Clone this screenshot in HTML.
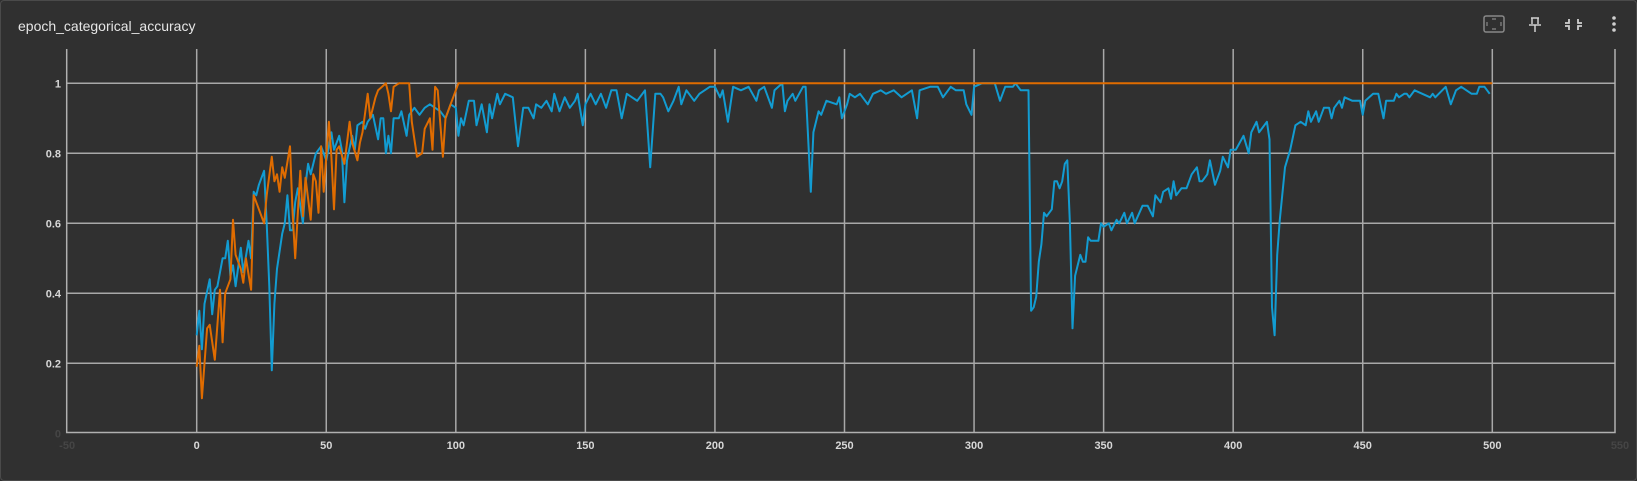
<!DOCTYPE html>
<html><head><meta charset="utf-8">
<style>
html,body{margin:0;padding:0;background:#2f2f2f;}
body{width:1637px;height:481px;overflow:hidden;font-family:"Liberation Sans",sans-serif;}
#card{position:absolute;left:0;top:0;width:1635px;height:479px;border:1px solid #4a4a4a;border-radius:4px;background:#303030;}
#title{position:absolute;left:17px;top:17px;color:#e6e6e6;font-size:14px;}
svg{position:absolute;left:0;top:0;}
</style></head><body>
<div id="card">
<div id="title">epoch_categorical_accuracy</div>
</div>
<svg id="icons" width="1637" height="50">
<g><rect x="1484" y="16" width="20" height="16" rx="2" fill="none" stroke="#888" stroke-width="1.5"/><path d="M1492 19h4M1492 29h4M1487 22v4M1501 22v4" stroke="#888" stroke-width="1.2"/></g>
<g stroke="#cfcfcf" stroke-width="1.5" fill="none"><path d="M1531 18h8M1532 18v6M1538 18v6M1529 25h12M1535 25v7"/></g>
<g stroke="#cfcfcf" stroke-width="1.8" fill="none"><path d="M1569 19v4h-4M1578 19v4h4M1569 30v-4h-4M1578 30v-4h4"/></g>
<g fill="#cfcfcf"><circle cx="1614" cy="18" r="1.8"/><circle cx="1614" cy="24" r="1.8"/><circle cx="1614" cy="30" r="1.8"/></g>
</svg>
<svg id="chart" width="1637" height="481" style="pointer-events:none"></svg>
<script>
const blueEpochs=[0,1,2,3,5,6,7,8,10,11,12,13,14,15,17,18,20,21,22,23,24,26,27,28,29,30,31,33,34,35,36,37,38,39,41,42,43,44,46,48,50,51,52,53,55,56,57,58,60,61,62,64,65,66,68,70,71,72,73,74,75,76,78,79,81,82,84,86,88,90,92,94,96,98,100,101,102,103,105,107,108,110,112,113,114,116,117,119,122,124,126,128,130,131,133,135,137,138,140,142,144,146,147,149,150,152,154,156,158,160,162,164,166,168,170,173,175,177,179,180,182,184,186,187,189,192,194,198,200,202,203,205,207,210,213,216,217,219,222,223,226,227,228,230,231,234,235,237,238,240,241,243,247,248,249,251,252,254,256,259,261,264,266,269,272,274,276,278,279,283,286,288,291,293,296,297,299,300,303,308,310,312,315,316,318,321,322,323,324,325,326,327,328,330,331,332,333,334,335,336,337,338,339,341,342,343,344,345,347,348,349,350,352,353,355,356,358,359,361,362,365,367,369,370,372,373,375,376,377,378,380,382,384,386,387,388,390,391,393,395,396,398,399,401,404,406,407,409,410,413,414,415,416,417,418,420,422,424,426,428,429,430,432,433,435,437,438,439,441,442,443,446,448,449,450,451,454,456,458,459,462,463,464,466,467,468,470,473,476,477,478,482,484,486,488,490,492,494,495,497,499];
const blueValues=[.28,.35,.24,.37,.44,.34,.41,.42,.50,.50,.55,.45,.48,.42,.53,.46,.55,.50,.69,.68,.71,.75,.60,.42,.18,.37,.47,.57,.60,.68,.58,.58,.66,.70,.60,.71,.77,.74,.80,.82,.78,.82,.86,.81,.85,.81,.66,.78,.85,.81,.88,.89,.87,.89,.91,.84,.90,.90,.80,.85,.80,.90,.90,.92,.85,.91,.93,.91,.93,.94,.93,.92,.90,.94,.93,.85,.90,.88,.95,.95,.88,.94,.86,.94,.90,.97,.94,.97,.96,.82,.93,.93,.90,.94,.93,.95,.92,.97,.92,.96,.93,.95,.97,.88,.94,.97,.94,.97,.93,.98,.98,.90,.97,.96,.95,.98,.76,.97,.97,.96,.92,.95,.99,.94,.98,.95,.97,.99,.99,.96,.98,.89,.99,.98,.99,.95,.98,.99,.93,.98,1.0,.92,.95,.97,.95,.99,.99,.69,.86,.92,.91,.95,.94,.96,.90,.94,.97,.96,.97,.94,.97,.98,.97,.98,.96,.97,.98,.90,.98,.99,.99,.96,.99,.98,.98,.94,.91,.99,1.0,1.0,.95,.99,.99,1.0,.98,.98,.35,.36,.39,.49,.54,.63,.62,.64,.72,.72,.70,.72,.77,.78,.60,.30,.45,.51,.49,.49,.56,.55,.55,.55,.60,.59,.60,.58,.61,.60,.63,.60,.63,.60,.65,.65,.62,.68,.66,.69,.70,.67,.72,.68,.70,.70,.74,.76,.72,.72,.74,.78,.71,.75,.79,.76,.81,.81,.85,.80,.86,.89,.86,.89,.84,.36,.28,.51,.61,.76,.81,.88,.89,.88,.92,.89,.92,.89,.93,.93,.90,.93,.95,.93,.96,.95,.95,.95,.91,.95,.97,.97,.90,.95,.95,.97,.96,.97,.97,.96,.98,.97,.96,.97,.96,.99,.94,.98,.99,.98,.97,.97,.99,.99,.97];
const orangeEpochs=[0,1,2,3,4,5,7,9,10,11,13,14,15,17,18,19,21,22,24,26,27,29,30,31,32,33,34,36,37,38,40,41,42,44,45,46,47,48,49,51,52,53,54,55,57,59,60,62,63,64,66,67,69,70,73,74,75,76,78,80,82,83,85,87,88,90,91,92,93,95,96,98,100,101,500];
const orangeValues=[.19,.25,.10,.20,.30,.31,.21,.41,.26,.40,.44,.61,.51,.47,.43,.50,.41,.68,.64,.60,.68,.79,.72,.74,.69,.76,.73,.82,.63,.50,.75,.62,.73,.61,.74,.72,.63,.82,.69,.89,.79,.64,.81,.82,.77,.89,.83,.78,.83,.86,.97,.90,.96,.98,1.0,.97,.92,.99,1.0,1.0,1.0,.89,.79,.80,.87,.90,.81,.99,.98,.79,.90,.94,.98,1.0,1.0];
const xTicks=[-50,0,50,100,150,200,250,300,350,400,450,500,550];
const yTicks=[0,0.2,0.4,0.6,0.8,1];

const L=66.7,R=1615,T=49,B=432.5;
const xs=e=>196.7+e*(1492.3-196.7)/500;
const ys=v=>433.3-v*350;
const svg=document.getElementById('chart');
const NS='http://www.w3.org/2000/svg';
function mk(tag,at){const e=document.createElementNS(NS,tag);for(const k in at)e.setAttribute(k,at[k]);svg.appendChild(e);return e;}
xTicks.forEach((t,i)=>{
  const x=xs(t);
  if(t>-50&&t<550){const g=mk('line',{x1:x,x2:x,y1:T,y2:B,stroke:'#a8a8a8','stroke-width':1.5});
  
  }
  const faint=(t===-50||t===550);
  const lb=mk('text',{x:Math.min(x,1620),y:449,'text-anchor':'middle',fill:faint?'#454545':'#d8d8d8','font-size':11,'font-weight':'bold','font-family':'Liberation Sans, sans-serif'});
  lb.textContent=t;
  
  
});
yTicks.forEach(t=>{
  const y=ys(t);
  if(t>0){const g=mk('line',{x1:L,x2:R,y1:y,y2:y,stroke:'#a8a8a8','stroke-width':1.5});
  
  }
  const lb=mk('text',{x:61,y:y+4,'text-anchor':'end',fill:t===0?'#454545':'#d8d8d8','font-size':11,'font-weight':'bold','font-family':'Liberation Sans, sans-serif'});
  lb.textContent=t;
  
  
});
const ax=mk('polyline',{points:`${L},${T} ${L},${B} ${R},${B} ${R},${T}`,fill:'none',stroke:'#b0b0b0','stroke-width':1.5});


function series(ep,vals,color,name){
  const p=mk('polyline',{points:ep.map((e,i)=>xs(e).toFixed(1)+','+ys(vals[i]).toFixed(1)).join(' '),fill:'none',stroke:color,'stroke-width':2,'stroke-linejoin':'round'});
  
  
}
series(blueEpochs,blueValues,'#129cd2','validation-accuracy-line');
series(orangeEpochs,orangeValues,'#e06c00','train-accuracy-line');
</script>
</body></html>
